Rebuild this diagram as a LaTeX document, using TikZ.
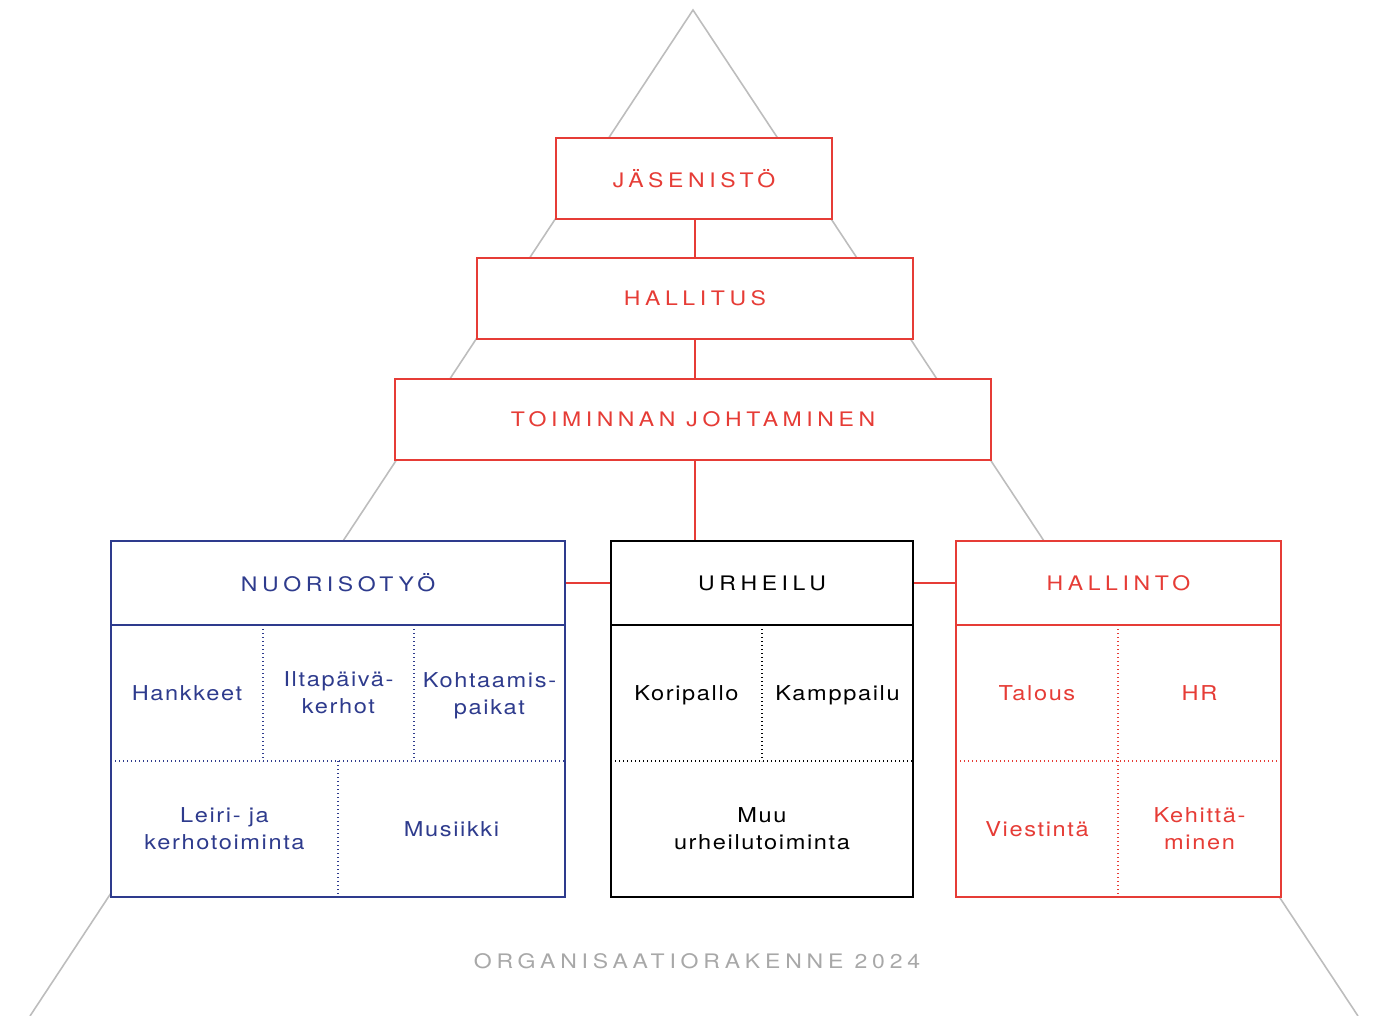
\documentclass[tikz,border=0pt]{standalone}
\usepackage{fontspec}
\setmainfont{TeX Gyre Heros}
\newfontfamily\hdfont[LetterSpace=23,FakeStretch=1.15]{TeX Gyre Heros}
\newfontfamily\ftfont[LetterSpace=24,FakeStretch=1.15]{TeX Gyre Heros}
\newfontfamily\bdfont[LetterSpace=8,FakeStretch=1.15]{TeX Gyre Heros}
\definecolor{orgred}{HTML}{E63C36}
\definecolor{orgblue}{HTML}{2E3B8D}
\definecolor{orggray}{HTML}{BDBDBD}
\definecolor{orgtext}{HTML}{A8A8A8}
\tikzset{
  box/.style={draw, line width=1.8pt, fill=white, inner sep=0pt, rectangle},
  head/.style={inner sep=0pt, font=\hdfont\fontsize{20}{24}\selectfont},
  cell/.style={inner sep=0pt, align=center, font=\bdfont\fontsize{20.5}{27}\selectfont},
  sep/.style={line width=1.8pt},
  dots/.style={line width=1.4pt, dash pattern=on 1.4pt off 2.6pt},
  link/.style={draw=orgred, line width=1.8pt},
  tri/.style={draw=orggray, line width=1.6pt}
}
\begin{document}
\begin{tikzpicture}[x=1pt, y=-1pt]
\useasboundingbox (0,0) rectangle (1379,1016);
% triangle outline
\coordinate (apex) at (693,10);
\coordinate (bl) at (30,1016);
\coordinate (br) at (1358,1016);
\draw[tri] (bl) -- (apex) -- (br);

% top hierarchy boxes
\node[box, draw=orgred, minimum width=276pt, minimum height=81pt] (jas) at (694,178.5) {};
\node[head, text=orgred] at (jas.center) {JÄSENISTÖ};
\node[box, draw=orgred, minimum width=436pt, minimum height=81pt] (hal) at (695,298.5) {};
\node[head, text=orgred] at (hal.center) {HALLITUS};
\node[box, draw=orgred, minimum width=596pt, minimum height=81pt] (toim) at (693,419.5) {};
\node[head, text=orgred] at (toim.center) {TOIMINNAN JOHTAMINEN};

% group boxes
\node[box, draw=orgblue, minimum width=454pt, minimum height=356pt] (nuo) at (338,719) {};
\node[box, draw=black, minimum width=302pt, minimum height=356pt] (urh) at (762,719) {};
\node[box, draw=orgred, minimum width=325pt, minimum height=356pt] (hlt) at (1118.5,719) {};

% connectors
\draw[link] (jas.south -| hal.north) -- (hal.north);
\draw[link] (hal.south) -- (hal.south |- toim.north);
\draw[link] (hal.south |- toim.south) -- (hal.south |- urh.north);

% headers
\node[head, text=orgblue] (nuoh) at (338,583) {NUORISOTYÖ};
\node[head, text=black] (urhh) at (762,583) {URHEILU};
\node[head, text=orgred] (hlth) at (1118.5,583) {HALLINTO};
\draw[link] (nuoh -| nuo.east) -- (nuoh -| urh.west);
\draw[link] (urhh -| urh.east) -- (urhh -| hlt.west);

% NUORISOTYO grid
\draw[sep, draw=orgblue] (111,625) -- (565,625);
\draw[dots, draw=orgblue] (111,761) -- (565,761);
\draw[dots, draw=orgblue] (263,625) -- (263,761);
\draw[dots, draw=orgblue] (414,625) -- (414,761);
\draw[dots, draw=orgblue] (338,761) -- (338,897);
\node[cell, text=orgblue] (n1) at (187,693) {Hankkeet};
\node[cell, text=orgblue] (n2) at (338.5,693) {Iltapäivä-\\kerhot};
\node[cell, text=orgblue] (n3) at (489.5,695.5) {Kohtaamis-\\paikat};
\node[cell, text=orgblue] (n4) at (224.5,829) {Leiri- ja\\kerhotoiminta};
\node[cell, text=orgblue] (n5) at (451.5,829) {Musiikki};

% URHEILU grid
\draw[sep, draw=black] (611,625) -- (913,625);
\draw[dots, draw=black] (611,761) -- (913,761);
\draw[dots, draw=black] (762,625) -- (762,761);
\node[cell] (u1) at (686.5,695) {Koripallo};
\node[cell] (u2) at (837.5,695) {Kamppailu};
\node[cell] (u3) at (762,829) {Muu\\urheilutoiminta};

% HALLINTO grid
\draw[sep, draw=orgred] (956,625) -- (1281,625);
\draw[dots, draw=orgred] (956,761) -- (1281,761);
\draw[dots, draw=orgred] (1118,625) -- (1118,897);
\node[cell, text=orgred] (h1) at (1037,693) {Talous};
\node[cell, text=orgred] (h2) at (1199.5,693) {HR};
\node[cell, text=orgred] (h3) at (1037,829) {Viestintä};
\node[cell, text=orgred] (h4) at (1199.5,829) {Kehittä-\\minen};

% footer
\node[inner sep=0pt, text=orgtext, font=\ftfont\fontsize{20}{24}\selectfont] (foot) at (697,961) {ORGANISAATIORAKENNE 2024};
\end{tikzpicture}
\end{document}
